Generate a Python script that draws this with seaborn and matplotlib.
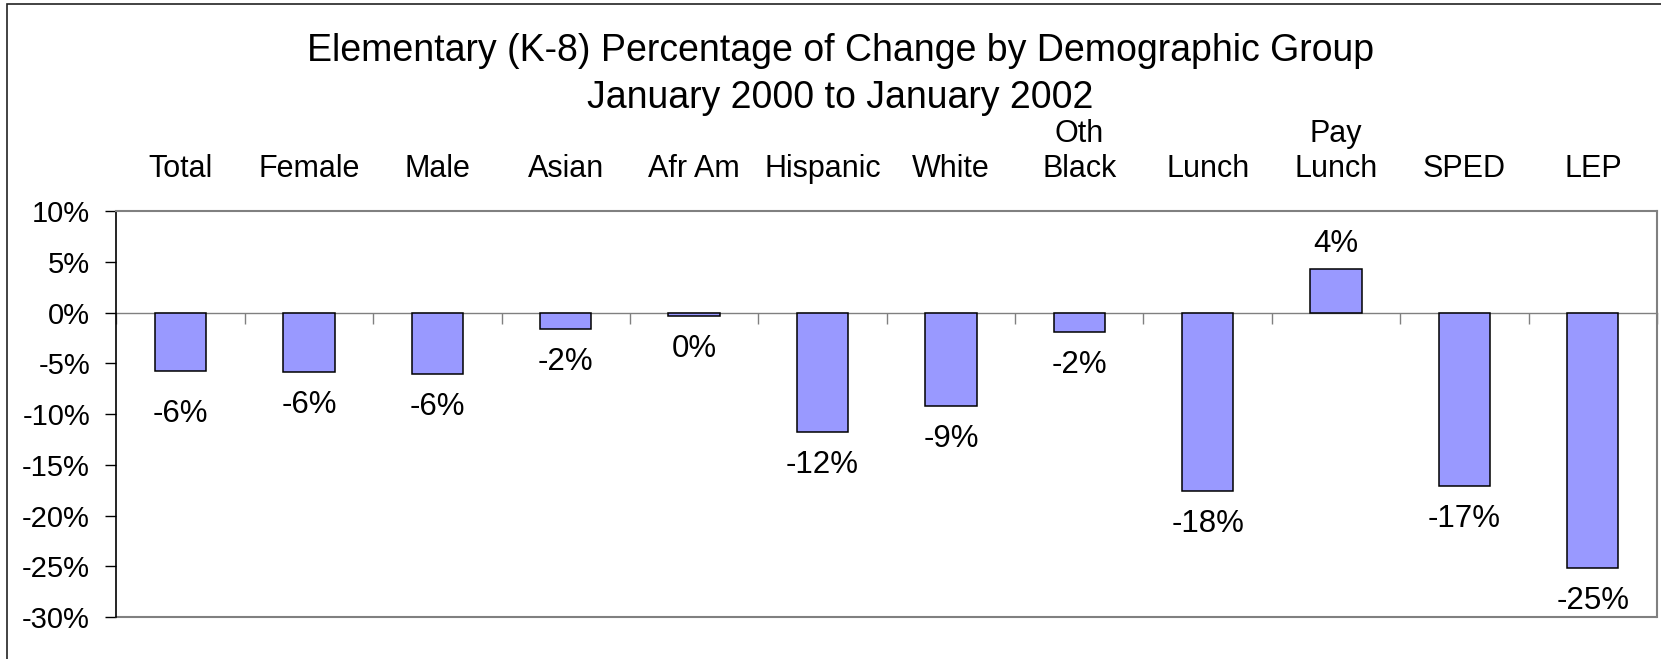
import pandas as pd
import numpy as np
import seaborn as sns
import matplotlib.pyplot as plt
from matplotlib.patches import Rectangle
from matplotlib.ticker import FuncFormatter

# chart data (percent change)
groups = ["Total", "Female", "Male", "Asian", "Afr Am", "Hispanic", "White",
          "Oth\nBlack", "Lunch", "Pay\nLunch", "SPED", "LEP"]
change = [-5.8, -5.85, -6.05, -1.6, -0.3, -11.8, -9.2, -1.9, -17.6, 4.3, -17.1, -25.2]
y_ticks = [-30, -25, -20, -15, -10, -5, 0, 5, 10]
title_lines = ["Elementary (K-8) Percentage of Change by Demographic Group",
               "January 2000 to January 2002"]

sns.set_style("white")
plt.rcParams['font.family'] = ['Liberation Sans', 'DejaVu Sans']
plt.rcParams['text.color'] = 'black'
plt.rcParams['xtick.color'] = 'black'
plt.rcParams['ytick.color'] = 'black'

df = pd.DataFrame({"group": groups, "change": change})

fig = plt.figure(figsize=(16.61, 6.59), dpi=100)
ax = fig.add_axes([0.0701, 0.0637, 0.9275, 0.6161])

sns.barplot(data=df, x="group", y="change", color="#9999FF", saturation=1,
            edgecolor="black", linewidth=1.1, width=0.4, errorbar=None, ax=ax)

ax.set_xlim(-0.5, len(groups) - 0.5)
ax.set_ylim(y_ticks[0], y_ticks[-1])
ax.set_xlabel("")
ax.set_ylabel("")

# y axis
ax.set_yticks(y_ticks)
ax.yaxis.set_major_formatter(FuncFormatter(lambda v, p: f"{v:.0f}%"))
ax.tick_params(axis="y", left=True, direction="out", length=8, width=1,
               color="black", pad=11, labelsize=21, labelcolor="black")

# category labels on top, tick marks on the zero line
ax.tick_params(axis="x", which="major", bottom=False, top=False,
               labelbottom=False, labeltop=True, pad=16, labelsize=22,
               labelcolor="black")
for lab in ax.get_xticklabels():
    lab.set_linespacing(1.35)
ax.set_xticks(np.arange(-0.5, len(groups), 1), minor=True)
ax.tick_params(axis="x", which="minor", bottom=True, top=False, direction="out",
               length=8, width=1, color="#808080")

ax.spines["bottom"].set_position(("data", 0))
ax.spines["bottom"].set_color("#808080")
ax.spines["bottom"].set_linewidth(1)
ax.spines["bottom"].set_zorder(0.5)
ax.spines["left"].set_color("black")
ax.spines["left"].set_linewidth(1.2)
for side in ["top", "right"]:
    ax.spines[side].set_visible(True)
    ax.spines[side].set_color("#808080")
    ax.spines[side].set_linewidth(1.5)
ax.axhline(y_ticks[0], color="#808080", lw=1.5, clip_on=False)

# value labels
for i, v in enumerate(change):
    txt = f"{int(round(v))}%"
    if v < 0:
        extra = 7 if groups[i] == "Total" else 0
        ax.annotate(txt, (i, v), xytext=(0, -13 - extra), textcoords="offset points",
                    ha="center", va="top", fontsize=22.5, color="black")
    else:
        ax.annotate(txt, (i, v), xytext=(0, 12), textcoords="offset points",
                    ha="center", va="baseline", fontsize=22.5, color="black")

# title
fig.text(0.506, 1 - 61 / 659, title_lines[0], ha="center", va="baseline",
         fontsize=27, color="black")
fig.text(0.506, 1 - 108 / 659, title_lines[1], ha="center", va="baseline",
         fontsize=27, color="black")

# chart frame
fig.patches.append(Rectangle((7 / 1661, -0.2), 1.2, 1 - 4 / 659 + 0.2,
                             transform=fig.transFigure, fill=False,
                             ec="#222222", lw=1.2))

fig.savefig("out.png", dpi=100)
